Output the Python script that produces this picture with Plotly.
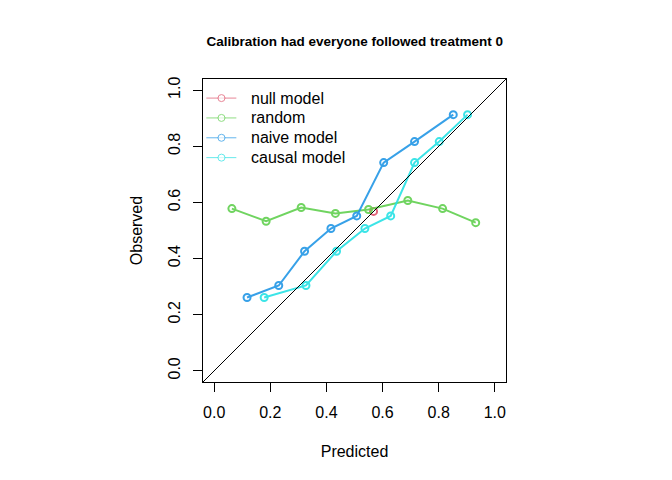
import plotly.graph_objects as go

# calibration curves
null_x = [0.568]
null_y = [0.568]

random_x = [0.063, 0.185, 0.310, 0.432, 0.550, 0.690, 0.814, 0.932]
random_y = [0.578, 0.533, 0.582, 0.561, 0.575, 0.607, 0.578, 0.528]

naive_x = [0.117, 0.230, 0.322, 0.416, 0.508, 0.604, 0.714, 0.852]
naive_y = [0.261, 0.304, 0.426, 0.507, 0.552, 0.742, 0.817, 0.913]

causal_x = [0.178, 0.327, 0.436, 0.537, 0.629, 0.714, 0.802, 0.903]
causal_y = [0.261, 0.304, 0.426, 0.507, 0.552, 0.742, 0.817, 0.913]

tick_vals = [0.0, 0.2, 0.4, 0.6, 0.8, 1.0]
tick_text = ["0.0", "0.2", "0.4", "0.6", "0.8", "1.0"]

series = [
    ("null model", null_x, null_y, "#DF536B"),
    ("random", random_x, random_y, "#61D04F"),
    ("naive model", naive_x, naive_y, "#2297E6"),
    ("causal model", causal_x, causal_y, "#28E2E5"),
]

fig = go.Figure()
for name, xs, ys, col in series:
    fig.add_trace(go.Scatter(
        x=xs, y=ys, name=name, mode="lines+markers",
        line=dict(color=col, width=2),
        marker=dict(symbol="circle-open", size=7, color=col, line=dict(width=2)),
        opacity=0.9, showlegend=False,
    ))

# identity line across the whole panel
fig.add_shape(type="line", xref="x domain", yref="y domain",
              x0=0, y0=0, x1=1, y1=1, line=dict(color="black", width=1))

# R-style legend drawn in the top-left corner (spacing tighter than plotly's)
for i, (name, xs, ys, col) in enumerate(series):
    yy = 0.937 - 0.0655 * i
    fig.add_shape(type="line", xref="x domain", yref="y domain",
                  x0=0.011, x1=0.110, y0=yy, y1=yy,
                  line=dict(color=col, width=1), opacity=0.7)
    fig.add_shape(type="circle", xref="x domain", yref="y domain",
                  xsizemode="pixel", ysizemode="pixel",
                  xanchor=0.061, yanchor=yy, x0=-3.5, x1=3.5, y0=-3.5, y1=3.5,
                  line=dict(color=col, width=1), fillcolor="white", opacity=0.7)
    fig.add_annotation(text=name, xref="x domain", yref="y domain",
                       x=0.153, y=yy, xanchor="left", yanchor="middle",
                       showarrow=False, font=dict(size=16, color="black"))

font = "Liberation Sans, Arial, sans-serif"
axis_style = dict(
    range=[-0.04, 1.04], tickvals=tick_vals, ticktext=tick_text,
    showgrid=False, zeroline=False, showline=True, mirror=True,
    linecolor="black", linewidth=1, ticks="outside", ticklen=9,
    tickcolor="black", tickfont=dict(size=16, color="black"),
    ticklabelstandoff=7,
)

fig.update_layout(
    width=672, height=480,
    margin=dict(l=195, r=174, t=71, b=106),
    paper_bgcolor="white", plot_bgcolor="white",
    font=dict(family=font, color="black"),
    title=dict(text="<b>Calibration had everyone followed treatment 0</b>",
               x=0.516, xanchor="center", yref="container", y=0.931,
               yanchor="middle", font=dict(size=13.5)),
    xaxis=dict(axis_style, title=dict(text="Predicted", font=dict(size=16), standoff=25)),
    yaxis=dict(axis_style, tickangle=-90,
               title=dict(text="Observed", font=dict(size=16), standoff=18)),
    showlegend=False,
)

fig.write_html("out.html")
